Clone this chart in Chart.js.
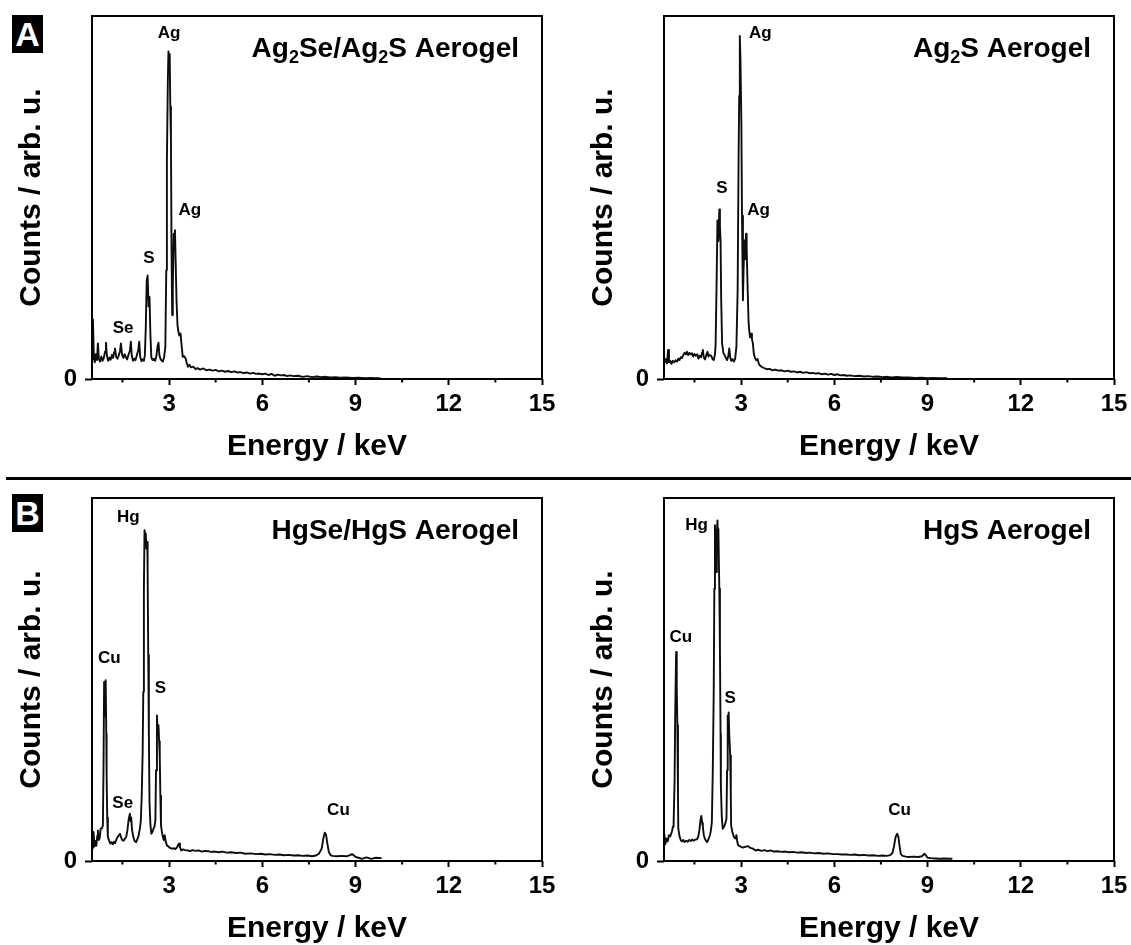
<!DOCTYPE html>
<html lang="en">
<head>
<meta charset="UTF-8" />
<title>EDX spectra of Ag and Hg chalcogenide aerogels</title>
<script src="https://cdn.jsdelivr.net/npm/chart.js"></script>
<style>
  body { margin: 0; background: #fff; width: 1131px; height: 945px; overflow: hidden; position: relative; font-family: "Liberation Sans", Arial, sans-serif; }
  canvas { position: absolute; }
  .sep { position: absolute; left: 6px; top: 477px; width: 1125px; height: 3px; background: #000; }
  .tag { position: absolute; left: 12px; width: 31px; height: 38px; background: #000; color: #fff; font: bold 34px "Liberation Sans", Arial, sans-serif; text-align: center; line-height: 38px; }
</style>
</head>
<body>
  <div class="tag" style="top:15px">A</div>
  <div class="sep"></div>
  <div class="tag" style="top:494px">B</div>

  <canvas id="chartA1" width="565" height="475" style="left:0;top:0"></canvas>
  <canvas id="chartA2" width="559" height="475" style="left:572px;top:0"></canvas>
  <canvas id="chartB1" width="565" height="475" style="left:0;top:482px"></canvas>
  <canvas id="chartB2" width="559" height="475" style="left:572px;top:482px"></canvas>

<script>
// ---- axis ticks ----
const xMajorTicks = [3, 6, 9, 12, 15];
const xMinorTicks = [1.5, 4.5, 7.5, 10.5, 13.5];
const yTicks = [0];

// ---- Ag2Se/Ag2S aerogel ----
const agSeEnergy = [
  0.52, 0.55, 0.58, 0.61, 0.64, 0.68, 0.71, 0.74, 0.78, 0.82,
  0.86, 0.90, 0.94, 0.97, 1.00, 1.04, 1.08, 1.12, 1.16, 1.20,
  1.23, 1.26, 1.30, 1.34, 1.38, 1.42, 1.45, 1.49, 1.53, 1.57,
  1.61, 1.65, 1.70, 1.74, 1.77, 1.80, 1.84, 1.88, 1.92, 1.96,
  2.01, 2.04, 2.07, 2.11, 2.15, 2.19, 2.22, 2.25, 2.28, 2.31,
  2.34, 2.37, 2.40, 2.43, 2.47, 2.51, 2.55, 2.59, 2.63, 2.66,
  2.69, 2.73, 2.77, 2.80, 2.84, 2.88, 2.91, 2.93, 2.96, 2.98,
  3.00, 3.02, 3.04, 3.06, 3.08, 3.10, 3.12, 3.15, 3.17, 3.19,
  3.21, 3.24, 3.27, 3.30, 3.33, 3.37, 3.40, 3.44, 3.48, 3.53,
  3.57, 3.61, 3.66, 3.70, 3.78, 3.85, 3.92, 4.00, 4.10, 4.20,
  4.30, 4.40, 4.50, 4.60, 4.70, 4.80, 4.90, 5.00, 5.10, 5.20,
  5.30, 5.40, 5.50, 5.60, 5.70, 5.80, 5.90, 6.00, 6.10, 6.20,
  6.30, 6.40, 6.50, 6.60, 6.70, 6.80, 6.90, 7.00, 7.15, 7.30,
  7.45, 7.60, 7.75, 7.90, 8.05, 8.20, 8.35, 8.50, 8.70, 8.90,
  9.10, 9.30, 9.50, 9.65, 9.80
];
const agSeCounts = [
  5.5, 16.4, 6.0, 4.6, 6.8, 5.2, 9.8, 5.6, 4.8, 6.2,
  5.0, 5.8, 7.6, 10.0, 6.4, 5.0, 5.9, 5.3, 6.6, 5.8,
  7.4, 8.4, 6.0, 5.6, 6.5, 7.6, 9.8, 6.6, 5.8, 6.8,
  6.0, 5.4, 6.8, 7.8, 10.3, 6.4, 5.0, 5.6, 5.2, 6.5,
  8.0, 10.3, 6.2, 4.9, 5.4, 5.0, 6.5, 14.0, 27.0, 28.5,
  20.0, 22.6, 12.0, 5.9, 5.2, 5.6, 5.0, 6.2, 9.0, 10.0,
  6.5, 5.4, 5.0, 4.8, 6.0, 8.9, 30.0, 60.0, 82.0, 90.2,
  86.0, 89.5, 75.0, 66.0, 35.0, 17.6, 25.0, 40.0, 37.0, 41.0,
  33.0, 21.7, 15.0, 13.0, 12.0, 12.5, 9.5, 6.1, 6.3, 5.7,
  4.4, 3.4, 3.9, 3.2, 3.4, 2.7, 3.0, 2.6, 2.9, 2.4,
  2.6, 2.3, 2.5, 2.1, 2.3, 2.0, 2.2, 1.9, 2.1, 1.8,
  1.9, 1.6, 1.8, 1.5, 1.7, 1.4, 1.5, 1.3, 1.5, 1.1,
  1.4, 0.9, 1.2, 1.0, 1.1, 0.8, 1.0, 0.8, 0.9, 0.6,
  0.8, 0.5, 0.7, 0.5, 0.6, 0.4, 0.5, 0.35, 0.45, 0.3,
  0.35, 0.25, 0.3, 0.2, 0.2
];
const agSePeaks = [
  { text: "Ag", x: 3.0, y: 95.2 },
  { text: "Ag", x: 3.67, y: 46.6 },
  { text: "S", x: 2.35, y: 33.2 },
  { text: "Se", x: 1.52, y: 13.9 }
];

// ---- Ag2S aerogel ----
const agSEnergy = [
  0.51, 0.54, 0.58, 0.62, 0.65, 0.68, 0.72, 0.76, 0.80, 0.85,
  0.89, 0.94, 0.98, 1.02, 1.06, 1.10, 1.14, 1.18, 1.22, 1.26,
  1.30, 1.34, 1.38, 1.42, 1.46, 1.50, 1.54, 1.59, 1.63, 1.67,
  1.71, 1.75, 1.77, 1.80, 1.84, 1.88, 1.92, 1.95, 1.99, 2.04,
  2.08, 2.12, 2.16, 2.18, 2.21, 2.24, 2.27, 2.30, 2.32, 2.34,
  2.36, 2.39, 2.43, 2.47, 2.51, 2.55, 2.59, 2.62, 2.65, 2.68,
  2.72, 2.77, 2.81, 2.85, 2.89, 2.92, 2.94, 2.96, 2.98, 3.01,
  3.03, 3.06, 3.08, 3.11, 3.13, 3.16, 3.18, 3.21, 3.24, 3.26,
  3.29, 3.32, 3.35, 3.38, 3.41, 3.45, 3.49, 3.53, 3.58, 3.65,
  3.72, 3.82, 3.92, 4.00, 4.10, 4.20, 4.30, 4.40, 4.50, 4.60,
  4.70, 4.80, 4.90, 5.00, 5.10, 5.20, 5.30, 5.40, 5.50, 5.60,
  5.70, 5.80, 5.90, 6.00, 6.10, 6.20, 6.30, 6.40, 6.50, 6.65,
  6.80, 6.95, 7.10, 7.25, 7.40, 7.55, 7.70, 7.85, 8.00, 8.20,
  8.40, 8.60, 8.80, 9.00, 9.20, 9.40, 9.63
];
const agSCounts = [
  6.1, 4.5, 5.5, 4.3, 8.0, 4.6, 5.0, 4.2, 5.0, 4.6,
  5.2, 4.8, 5.6, 5.2, 6.0, 5.8, 6.6, 7.2, 6.8, 7.5,
  6.6, 7.2, 6.8, 7.1, 6.2, 6.9, 6.4, 6.8, 5.6, 6.4,
  6.0, 7.4, 8.0, 5.9, 5.4, 6.6, 7.5, 6.2, 6.6, 6.4,
  5.5, 5.2, 6.8, 9.3, 25.0, 43.7, 38.0, 46.7, 42.0, 38.2,
  22.0, 9.8, 7.2, 6.6, 5.8, 5.2, 6.4, 8.4, 6.0, 5.0,
  5.5, 4.8, 5.6, 8.9, 24.5, 61.0, 78.0, 94.5, 88.0, 70.2,
  45.0, 21.7, 30.0, 38.2, 33.0, 40.0, 36.0, 25.4, 16.0, 13.5,
  11.5, 12.5, 11.0, 9.8, 7.0, 5.7, 5.2, 5.5, 4.0, 3.4,
  3.1, 2.7, 2.8, 2.4, 2.6, 2.3, 2.4, 2.1, 2.3, 2.0,
  2.1, 1.8, 2.0, 1.7, 1.9, 1.6, 1.7, 1.5, 1.6, 1.3,
  1.5, 1.2, 1.4, 1.1, 1.3, 1.0, 1.1, 0.9, 1.0, 0.8,
  0.9, 0.7, 0.8, 0.6, 0.7, 0.5, 0.6, 0.45, 0.55, 0.4,
  0.45, 0.3, 0.35, 0.25, 0.3, 0.2, 0.2
];
const agSPeaks = [
  { text: "Ag", x: 3.62, y: 95.1 },
  { text: "S", x: 2.38, y: 52.6 },
  { text: "Ag", x: 3.56, y: 46.4 }
];

// ---- HgSe/HgS aerogel ----
const hgSeEnergy = [
  0.55, 0.57, 0.60, 0.63, 0.66, 0.69, 0.71, 0.74, 0.77, 0.80,
  0.84, 0.87, 0.89, 0.91, 0.93, 0.96, 0.98, 0.99, 1.01, 1.03,
  1.07, 1.11, 1.15, 1.19, 1.23, 1.26, 1.30, 1.34, 1.38, 1.42,
  1.46, 1.50, 1.54, 1.58, 1.62, 1.66, 1.70, 1.74, 1.76, 1.78,
  1.81, 1.85, 1.89, 1.94, 1.98, 2.02, 2.06, 2.09, 2.12, 2.15,
  2.17, 2.19, 2.21, 2.23, 2.25, 2.27, 2.30, 2.31, 2.33, 2.35,
  2.37, 2.40, 2.43, 2.47, 2.50, 2.53, 2.56, 2.58, 2.61, 2.63,
  2.66, 2.68, 2.70, 2.72, 2.74, 2.77, 2.80, 2.83, 2.86, 2.89,
  2.93, 2.98, 3.03, 3.09, 3.15, 3.20, 3.26, 3.30, 3.32, 3.35,
  3.39, 3.45, 3.52, 3.60, 3.67, 3.75, 3.85, 3.95, 4.05, 4.15,
  4.25, 4.35, 4.47, 4.60, 4.72, 4.85, 5.00, 5.15, 5.30, 5.45,
  5.62, 5.80, 5.95, 6.10, 6.25, 6.40, 6.55, 6.70, 6.85, 7.00,
  7.15, 7.30, 7.45, 7.60, 7.72, 7.82, 7.91, 7.97, 8.01, 8.05,
  8.09, 8.14, 8.20, 8.25, 8.40, 8.55, 8.71, 8.82, 8.88, 8.94,
  9.00, 9.10, 9.20, 9.35, 9.50, 9.65, 9.84
];
const hgSeCounts = [
  3.4, 8.0, 4.0, 5.5, 4.2, 7.0, 8.4, 5.8, 6.5, 8.9,
  9.0, 9.8, 25.0, 49.3, 40.0, 49.8, 35.0, 23.6, 12.0, 6.6,
  5.6, 4.8, 5.2, 4.6, 5.3, 4.9, 5.8, 6.6, 7.0, 7.5,
  6.4, 5.7, 5.6, 6.2, 6.6, 8.5, 11.5, 13.0, 11.0, 12.0,
  8.5, 6.6, 5.5, 5.2, 6.0, 7.0, 8.9, 11.0, 18.0, 30.0,
  46.6, 75.0, 91.1, 87.0, 90.2, 86.0, 87.9, 80.0, 56.7, 35.0,
  16.3, 10.0, 7.5, 8.2, 8.9, 9.5, 11.2, 25.0, 40.1, 36.0,
  37.4, 33.0, 29.1, 18.0, 9.8, 8.0, 6.6, 5.8, 7.1, 5.4,
  4.3, 4.0, 3.6, 3.4, 3.5, 3.3, 3.8, 4.6, 4.8, 3.8,
  2.9, 3.2, 3.0, 2.9, 2.7, 3.0, 2.8, 2.9, 2.6, 2.8,
  2.7, 2.5, 2.6, 2.4, 2.6, 2.3, 2.4, 2.2, 2.3, 2.0,
  2.1, 1.9, 2.0, 1.8, 1.9, 1.7, 1.8, 1.6, 1.7, 1.5,
  1.6, 1.4, 1.5, 1.3, 1.5, 2.0, 3.4, 6.5, 7.8, 7.3,
  5.0, 2.5, 1.6, 1.4, 1.3, 1.4, 1.3, 1.6, 1.9, 1.6,
  1.1, 0.9, 0.6, 1.0, 0.6, 0.9, 0.8
];
const hgSePeaks = [
  { text: "Hg", x: 1.69, y: 94.8 },
  { text: "Cu", x: 1.08, y: 55.7 },
  { text: "S", x: 2.72, y: 47.5 },
  { text: "Se", x: 1.51, y: 16.0 },
  { text: "Cu", x: 8.45, y: 14.0 }
];

// ---- HgS aerogel ----
const hgSEnergy = [
  0.51, 0.53, 0.56, 0.60, 0.64, 0.68, 0.72, 0.77, 0.81, 0.83,
  0.86, 0.88, 0.91, 0.93, 0.95, 0.97, 0.98, 1.02, 1.06, 1.10,
  1.14, 1.18, 1.23, 1.28, 1.33, 1.38, 1.43, 1.48, 1.53, 1.58,
  1.62, 1.66, 1.69, 1.72, 1.75, 1.77, 1.80, 1.83, 1.87, 1.91,
  1.95, 2.00, 2.03, 2.06, 2.09, 2.12, 2.14, 2.16, 2.18, 2.20,
  2.22, 2.24, 2.26, 2.27, 2.30, 2.32, 2.34, 2.35, 2.38, 2.41,
  2.44, 2.47, 2.50, 2.53, 2.55, 2.57, 2.59, 2.60, 2.62, 2.65,
  2.67, 2.68, 2.72, 2.77, 2.81, 2.85, 2.88, 2.91, 2.96, 3.00,
  3.06, 3.12, 3.18, 3.23, 3.30, 3.38, 3.47, 3.55, 3.65, 3.75,
  3.85, 3.95, 4.05, 4.17, 4.30, 4.42, 4.55, 4.68, 4.80, 4.95,
  5.10, 5.22, 5.35, 5.50, 5.65, 5.80, 5.95, 6.10, 6.25, 6.40,
  6.52, 6.65, 6.80, 6.95, 7.10, 7.25, 7.40, 7.55, 7.69, 7.80,
  7.87, 7.92, 7.97, 8.02, 8.06, 8.10, 8.14, 8.20, 8.30, 8.40,
  8.55, 8.70, 8.82, 8.90, 8.95, 9.00, 9.10, 9.25, 9.40, 9.55,
  9.70, 9.80
];
const hgSCounts = [
  4.3, 7.5, 4.6, 6.2, 5.4, 7.1, 6.8, 8.0, 9.5, 10.7,
  22.0, 40.1, 57.6, 48.0, 37.4, 18.0, 8.9, 6.8, 5.7, 5.4,
  5.8, 5.2, 5.6, 5.3, 5.8, 5.5, 5.9, 5.6, 5.9, 6.0,
  6.6, 8.5, 11.0, 12.4, 10.5, 9.5, 7.2, 6.2, 5.6, 5.2,
  6.0, 7.1, 8.5, 10.7, 25.0, 46.6, 75.0, 92.5, 86.0, 79.6,
  90.0, 93.8, 88.0, 91.5, 75.0, 58.5, 35.0, 20.8, 12.0, 8.9,
  9.3, 9.8, 10.5, 11.7, 25.0, 40.1, 36.0, 40.9, 35.0, 29.1,
  18.0, 9.8, 8.0, 6.6, 6.2, 7.1, 5.2, 4.3, 4.1, 3.9,
  3.7, 3.9, 4.0, 4.1, 3.6, 3.4, 2.9, 3.1, 2.8, 3.0,
  2.7, 2.9, 2.6, 2.7, 2.5, 2.6, 2.4, 2.5, 2.3, 2.4,
  2.2, 2.3, 2.1, 2.2, 2.0, 2.1, 1.9, 1.9, 1.8, 1.8,
  1.7, 1.8, 1.6, 1.7, 1.5, 1.6, 1.4, 1.5, 1.4, 1.6,
  2.2, 4.0, 6.5, 7.5, 6.8, 4.2, 1.9, 1.4, 1.2, 1.1,
  1.2, 1.1, 1.3, 2.0, 1.5, 0.9, 0.8, 0.7, 0.6, 0.7,
  0.6, 0.6
];
const hgSPeaks = [
  { text: "Hg", x: 1.57, y: 92.5 },
  { text: "Cu", x: 1.06, y: 61.7 },
  { text: "S", x: 2.65, y: 44.9 },
  { text: "Cu", x: 8.10, y: 14.0 }
];

// titles: [text, isSubscript]
const titleAgSe = [["Ag", 0], ["2", 1], ["Se/Ag", 0], ["2", 1], ["S Aerogel", 0]];
const titleAgS = [["Ag", 0], ["2", 1], ["S Aerogel", 0]];
const titleHgSe = [["HgSe/HgS Aerogel", 0]];
const titleHgS = [["HgS Aerogel", 0]];

const FONT = '"Liberation Sans", Arial, sans-serif';

// frame, minor ticks, peak labels and panel title
const panelPlugin = {
  id: "panel",
  afterDraw(chart, args, opts) {
    const { ctx, chartArea: a, scales: { x, y } } = chart;
    ctx.save();
    ctx.strokeStyle = "#000";
    ctx.lineWidth = 2;
    ctx.strokeRect(a.left, a.top, a.right - a.left, a.bottom - a.top);

    xMinorTicks.forEach(v => {
      const px = x.getPixelForValue(v);
      ctx.beginPath();
      ctx.moveTo(px, a.bottom);
      ctx.lineTo(px, a.bottom + 3.5);
      ctx.stroke();
    });

    ctx.fillStyle = "#000";
    ctx.font = "bold 17px " + FONT;
    ctx.textAlign = "center";
    ctx.textBaseline = "middle";
    opts.peaks.forEach(p => {
      ctx.fillText(p.text, x.getPixelForValue(p.x), y.getPixelForValue(p.y));
    });

    // title, right aligned, with subscripts
    const mainFont = "bold 28px " + FONT;
    const subFont = "bold 18px " + FONT;
    ctx.textAlign = "left";
    ctx.textBaseline = "alphabetic";
    let total = 0;
    opts.title.forEach(([t, sub]) => {
      ctx.font = sub ? subFont : mainFont;
      total += ctx.measureText(t).width;
    });
    let tx = a.right - 23 - total;
    const ty = a.top + 41;
    opts.title.forEach(([t, sub]) => {
      ctx.font = sub ? subFont : mainFont;
      ctx.fillText(t, tx, sub ? ty + 6 : ty);
      tx += ctx.measureText(t).width;
    });
    ctx.restore();
  }
};

function makeChart(id, energy, counts, peaks, title, padRight) {
  const points = energy.map((e, i) => ({ x: e, y: counts[i] }));
  return new Chart(document.getElementById(id), {
    type: "line",
    data: {
      datasets: [{
        data: points,
        borderColor: "#0d0d0d",
        borderWidth: 1.9,
        pointRadius: 0,
        tension: 0,
        borderJoinStyle: "round",
        fill: false
      }]
    },
    options: {
      responsive: false,
      animation: false,
      parsing: false,
      layout: { padding: { left: 0, right: padRight, top: 16, bottom: 0 } },
      plugins: {
        legend: { display: false },
        tooltip: { enabled: false },
        panel: { peaks: peaks, title: title }
      },
      scales: {
        x: {
          type: "linear",
          min: 0.52,
          max: 15,
          afterBuildTicks: s => { s.ticks = xMajorTicks.map(v => ({ value: v })); },
          afterFit: s => { s.height = 96; s.paddingLeft = 0; s.paddingRight = 0; },
          ticks: {
            color: "#000",
            font: { family: FONT, size: 24, weight: "bold" },
            padding: 5,
            maxRotation: 0,
            autoSkip: false
          },
          grid: { drawOnChartArea: false, drawTicks: true, tickLength: 6, tickWidth: 2, tickColor: "#000" },
          border: { display: false },
          title: {
            display: true,
            text: "Energy / keV",
            color: "#000",
            font: { family: FONT, size: 30, weight: "bold" },
            padding: { top: 0, bottom: 10 }
          }
        },
        y: {
          type: "linear",
          min: 0,
          max: 100,
          afterBuildTicks: s => { s.ticks = yTicks.map(v => ({ value: v })); },
          afterFit: s => { s.width = 92; s.paddingTop = 0; s.paddingBottom = 0; },
          ticks: {
            color: "#000",
            font: { family: FONT, size: 24, weight: "bold" },
            padding: 8
          },
          grid: { drawOnChartArea: false, drawTicks: true, tickLength: 7, tickWidth: 2, tickColor: "#000" },
          border: { display: false },
          title: {
            display: true,
            text: "Counts / arb. u.",
            color: "#000",
            font: { family: FONT, size: 30, weight: "bold" },
            padding: { top: 14, bottom: 0 }
          }
        }
      }
    },
    plugins: [panelPlugin]
  });
}

makeChart("chartA1", agSeEnergy, agSeCounts, agSePeaks, titleAgSe, 23);
makeChart("chartA2", agSEnergy, agSCounts, agSPeaks, titleAgS, 17);
makeChart("chartB1", hgSeEnergy, hgSeCounts, hgSePeaks, titleHgSe, 23);
makeChart("chartB2", hgSEnergy, hgSCounts, hgSPeaks, titleHgS, 17);
</script>
</body>
</html>
